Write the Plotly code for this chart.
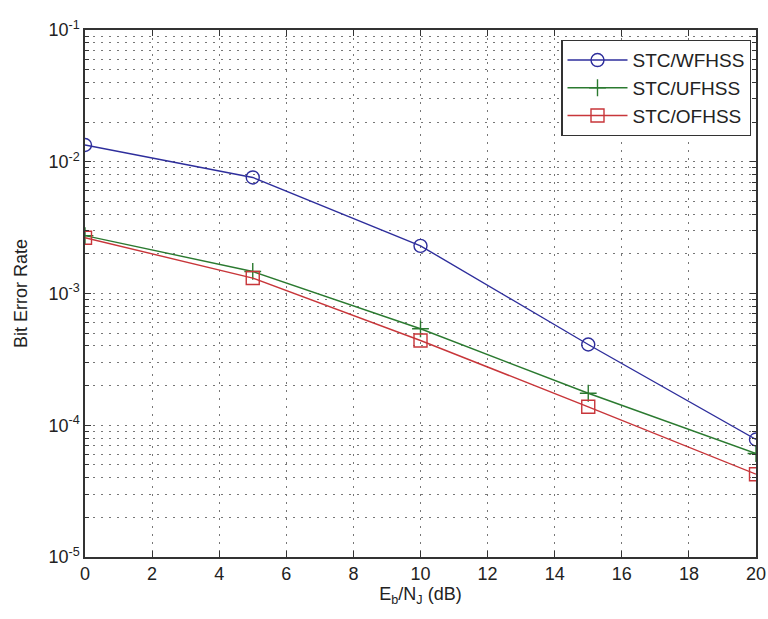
import plotly.graph_objects as go

# Eb/NJ sweep (dB) and measured bit error rates for each scheme
ebnj_db = [0, 5, 10, 15, 20]
ber_wfhss = [1.34e-2, 7.6e-3, 2.3e-3, 4.1e-4, 7.8e-5]
ber_ufhss = [2.75e-3, 1.47e-3, 5.4e-4, 1.75e-4, 6.1e-5]
ber_ofhss = [2.65e-3, 1.31e-3, 4.4e-4, 1.38e-4, 4.25e-5]

x_ticks = list(range(0, 21, 2))
y_tick_vals = [1e-5, 1e-4, 1e-3, 1e-2, 1e-1]
y_tick_text = ["10<sup>-5</sup>", "10<sup>-4</sup>", "10<sup>-3</sup>",
               "10<sup>-2</sup>", "10<sup>-1</sup>"]

FONT = "Liberation Sans, Arial, sans-serif"
GRID_DASH = "2px,6px"

fig = go.Figure()
fig.add_trace(go.Scatter(
    x=ebnj_db, y=ber_wfhss, name="STC/WFHSS", mode="lines+markers",
    line=dict(color="#2e2e9c", width=1.4),
    marker=dict(symbol="circle-open", size=13, color="#2e2e9c", line=dict(width=1.4)),
))
fig.add_trace(go.Scatter(
    x=ebnj_db, y=ber_ufhss, name="STC/UFHSS", mode="lines+markers",
    line=dict(color="#2b7a30", width=1.4),
    marker=dict(symbol="cross-thin-open", size=12, color="#2b7a30", line=dict(width=1.4)),
))
fig.add_trace(go.Scatter(
    x=ebnj_db, y=ber_ofhss, name="STC/OFHSS", mode="lines+markers",
    line=dict(color="#c8363a", width=1.4),
    marker=dict(symbol="square-open", size=13, color="#c8363a", line=dict(width=1.4)),
))

axis_common = dict(
    showline=True, linecolor="#333", linewidth=1.5, mirror="allticks",
    ticks="inside", ticklen=6, tickcolor="#333",
    showgrid=True, gridcolor="#777", griddash=GRID_DASH, gridwidth=1.3,
    zeroline=False, automargin=False,
    tickfont=dict(family=FONT, size=18, color="#222"),
)

fig.update_xaxes(
    **axis_common,
    range=[0, 20], tickvals=x_ticks,
    title=dict(text="E<sub>b</sub>/N<sub>J</sub> (dB)", standoff=4,
               font=dict(family=FONT, size=18, color="#222")),
)
fig.update_yaxes(
    **axis_common,
    type="log", range=[-5, -1],
    tickvals=y_tick_vals, ticktext=y_tick_text,
    minor=dict(ticks="inside", ticklen=4, tickcolor="#333", dtick="D1",
               showgrid=True, gridcolor="#777", griddash=GRID_DASH, gridwidth=1.3),
    title=dict(text="Bit Error Rate", standoff=16,
               font=dict(family=FONT, size=18, color="#222")),
)

fig.update_layout(
    width=768, height=619,
    margin=dict(l=85, r=12, t=30, b=62),
    paper_bgcolor="white", plot_bgcolor="white",
    showlegend=True,
    legend=dict(
        x=0.993, y=0.981, xanchor="right", yanchor="top",
        bgcolor="white", bordercolor="#333", borderwidth=1.2,
        font=dict(family=FONT, size=19, color="#222"),
        tracegroupgap=0, itemwidth=60,
    ),
)

fig.write_html("out.html")
